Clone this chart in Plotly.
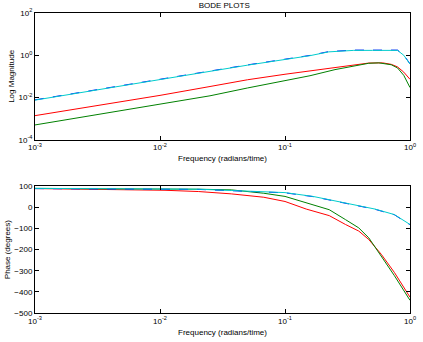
import numpy as np
import plotly.graph_objects as go

# log10 of frequency (radians/time) at which each curve was read
logw_mag_c = [-3, -2.5, -2, -1.6, -1.3, -1.0, -0.8, -0.65, -0.55, -0.45, -0.3, -0.2, -0.1, -0.05, 0]
mag_c = [-2.125, -1.63, -1.14, -0.75, -0.47, -0.2, -0.02, 0.16, 0.21, 0.23, 0.23, 0.23, 0.23, 0.0, -0.42]
logw_mag_r = [-3, -2.5, -2, -1.6, -1.3, -1.0, -0.8, -0.6, -0.45, -0.33, -0.22, -0.15, -0.1, -0.05, 0]
mag_r = [-2.86, -2.38, -1.9, -1.48, -1.16, -0.9, -0.74, -0.57, -0.44, -0.37, -0.36, -0.43, -0.55, -0.8, -1.14]
logw_mag_g = [-3, -2.5, -2, -1.6, -1.3, -1.0, -0.8, -0.6, -0.45, -0.33, -0.25, -0.15, -0.1, -0.05, 0]
mag_g = [-3.3, -2.8, -2.3, -1.92, -1.55, -1.2, -0.97, -0.68, -0.5, -0.38, -0.36, -0.45, -0.6, -0.95, -1.53]

logw_ph_c = [-3, -2, -1.69, -1.43, -1.0, -0.776, -0.516, -0.28, -0.125, 0]
ph_c = [90, 89, 86, 80, 70, 52, 20, -8, -34, -81]
logw_ph_r = [-3, -2.68, -2.16, -1.96, -1.69, -1.43, -1.17, -1.0, -0.83, -0.646, -0.516, -0.41, -0.33, -0.23, -0.125, 0]
ph_r = [89, 87, 85, 81, 75, 64, 48, 28, -8, -39, -81, -112, -152, -222, -308, -425]
logw_ph_g = [-3, -2, -1.69, -1.43, -1.17, -1.0, -0.83, -0.646, -0.516, -0.41, -0.33, -0.23, -0.125, 0]
ph_g = [90, 89, 86, 83, 67, 52, 23, -11, -58, -97, -144, -230, -323, -440]

xtick_vals = [1e-3, 1e-2, 1e-1, 1e0]
xtick_text = ["10<sup>-3</sup>", "10<sup>-2</sup>", "10<sup>-1</sup>", "10<sup>0</sup>"]
ytick_vals = [1e-4, 1e-2, 1e0, 1e2]
ytick_text = ["10<sup>-4</sup>", "10<sup>-2</sup>", "10<sup>0</sup>", "10<sup>2</sup>"]
ph_ticks = [100, 0, -100, -200, -300, -400, -500]

BLUE, CYAN, RED, GREEN = "#0000ff", "#00cccc", "#ff0000", "#008000"

def w(lw):
    return [10 ** v for v in lw]

def mag(lm, scale=1.0):
    return [10 ** v * scale for v in lm]

fig = go.Figure()
# magnitude
fig.add_trace(go.Scatter(x=w(logw_mag_r), y=mag(mag_r), mode="lines", line=dict(color=RED, width=1), xaxis="x", yaxis="y"))
fig.add_trace(go.Scatter(x=w(logw_mag_g), y=mag(mag_g), mode="lines", line=dict(color=GREEN, width=1), xaxis="x", yaxis="y"))
fig.add_trace(go.Scatter(x=w(logw_mag_c), y=mag(mag_c, 1.03), mode="lines", line=dict(color=BLUE, width=1, dash="dash"), xaxis="x", yaxis="y"))
fig.add_trace(go.Scatter(x=w(logw_mag_c), y=mag(mag_c), mode="lines", line=dict(color=CYAN, width=1), xaxis="x", yaxis="y"))
# phase
fig.add_trace(go.Scatter(x=w(logw_ph_r), y=ph_r, mode="lines", line=dict(color=RED, width=1), xaxis="x2", yaxis="y2"))
fig.add_trace(go.Scatter(x=w(logw_ph_g), y=ph_g, mode="lines", line=dict(color=GREEN, width=1), xaxis="x2", yaxis="y2"))
fig.add_trace(go.Scatter(x=w(logw_ph_c), y=[p - 1 for p in ph_c], mode="lines", line=dict(color=BLUE, width=1, dash="dash"), xaxis="x2", yaxis="y2"))
fig.add_trace(go.Scatter(x=w(logw_ph_c), y=ph_c, mode="lines", line=dict(color=CYAN, width=1), xaxis="x2", yaxis="y2"))

FONT = dict(family="Liberation Sans, Arial, sans-serif", size=8, color="black")
axcommon = dict(showline=True, linecolor="black", linewidth=1, mirror="ticks", ticks="inside",
                ticklen=4, tickcolor="black", showgrid=False, zeroline=False, tickfont=FONT)

H = 303.0
fig.update_layout(
    width=423, height=342,
    margin=dict(l=32, r=7, t=13, b=26),
    paper_bgcolor="white", plot_bgcolor="white",
    showlegend=False,
    font=FONT,
    title=dict(text="BODE PLOTS", x=0.53, xanchor="center", y=1 - 5 / 342, yanchor="middle", yref="container", font=FONT),
    xaxis=dict(type="log", range=[-3, 0], domain=[0, 1], anchor="y", tickvals=xtick_vals, ticktext=xtick_text,
               title=dict(text="Frequency (radians/time)", font=FONT, standoff=4), **axcommon),
    yaxis=dict(type="log", range=[-4, 2], domain=[175 / H, 1], anchor="x", tickvals=ytick_vals, ticktext=ytick_text,
               title=dict(text="Log Magnitude", font=FONT, standoff=2), **axcommon),
    xaxis2=dict(type="log", range=[-3, 0], domain=[0, 1], anchor="y2", tickvals=xtick_vals, ticktext=xtick_text,
                title=dict(text="Frequency (radians/time)", font=FONT, standoff=4), **axcommon),
    yaxis2=dict(range=[-500, 100], domain=[0, 128 / H], anchor="x2", tickvals=ph_ticks,
                title=dict(text="Phase (degrees)", font=FONT, standoff=2), **axcommon),
)

fig.write_html("out.html")
